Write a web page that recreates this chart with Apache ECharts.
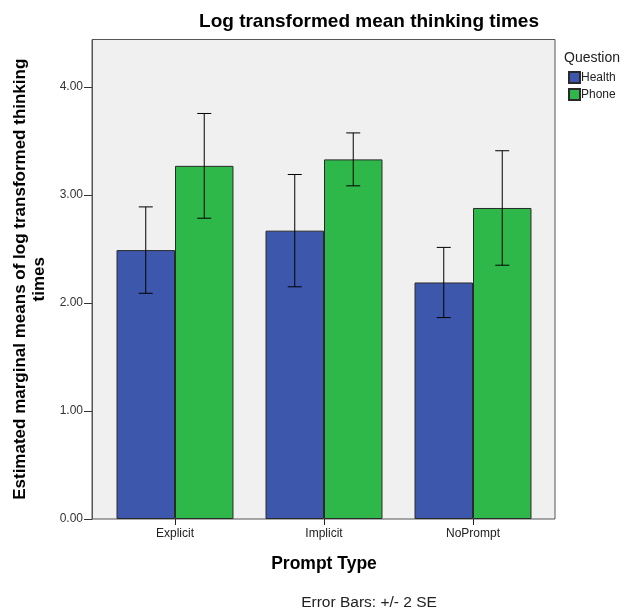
<!DOCTYPE html>
<html>
<head>
<meta charset="utf-8">
<script src="https://cdn.jsdelivr.net/npm/echarts@6/dist/echarts.min.js"></script>
<style>
  html, body { margin: 0; padding: 0; background: #ffffff; }
  #chart { width: 628px; height: 610px; }
</style>
</head>
<body>
<div id="chart"></div>
<script>
// Prompt types on the x axis
const categories = ['Explicit', 'Implicit', 'NoPrompt'];
// Estimated marginal means (log thinking time) per question
const healthMeans = [2.49, 2.67, 2.19];
const phoneMeans = [3.27, 3.33, 2.88];
// Half-width of the error bars (2 SE)
const healthErr = [0.40, 0.52, 0.325];
const phoneErr = [0.485, 0.245, 0.53];
// Y axis ticks
const yTicks = [0, 1, 2, 3, 4];
const yMax = 4.44;

const FONT = 'Liberation Sans, Arial, sans-serif';
const GAP = 0.215; // share of each category left empty

const chart = echarts.init(document.getElementById('chart'), null, { renderer: 'canvas' });

function errorItem(offsetSign) {
  return function (params, api) {
    const cat = api.value(0);
    const lo = api.value(1);
    const hi = api.value(2);
    const band = api.size([1, 0])[0];
    const barW = band * (1 - GAP) / 2;
    const top = api.coord([cat, hi]);
    const bot = api.coord([cat, lo]);
    const x = top[0] + offsetSign * barW / 2;
    const cap = 7;
    const style = { stroke: '#000', lineWidth: 1 };
    return {
      type: 'group',
      children: [
        { type: 'line', shape: { x1: x, y1: top[1], x2: x, y2: bot[1] }, style },
        { type: 'line', shape: { x1: x - cap, y1: top[1], x2: x + cap, y2: top[1] }, style },
        { type: 'line', shape: { x1: x - cap, y1: bot[1], x2: x + cap, y2: bot[1] }, style }
      ]
    };
  };
}

const healthErrData = categories.map((c, i) => [i, healthMeans[i] - healthErr[i], healthMeans[i] + healthErr[i]]);
const phoneErrData = categories.map((c, i) => [i, phoneMeans[i] - phoneErr[i], phoneMeans[i] + phoneErr[i]]);

const option = {
  animation: false,
  backgroundColor: '#ffffff',
  textStyle: { fontFamily: FONT },
  title: [
    {
      text: 'Log transformed mean thinking times',
      left: 364, top: 7, textAlign: 'center',
      textStyle: { fontFamily: FONT, fontSize: 19, fontWeight: 'bold', color: '#000' }
    },
    {
      text: 'Question',
      left: 559, top: 46,
      textStyle: { fontFamily: FONT, fontSize: 14, fontWeight: 'normal', color: '#222' }
    },
    {
      text: 'Error Bars: +/- 2 SE',
      left: 364, top: 590, textAlign: 'center',
      textStyle: { fontFamily: FONT, fontSize: 15.5, fontWeight: 'normal', color: '#222' }
    }
  ],
  legend: {
    orient: 'vertical',
    left: 563, top: 66,
    itemWidth: 11, itemHeight: 11, itemGap: 4,
    icon: 'rect',
    selectedMode: false,
    textStyle: { fontFamily: FONT, fontSize: 12, color: '#222', padding: [0, 0, 0, -4] },
    data: ['Health', 'Phone']
  },
  grid: [
    { left: 92, right: 73, top: 39.5, bottom: 91, show: true,
      backgroundColor: '#f0f0f0', borderColor: '#555', borderWidth: 1 },
    { left: 100.5, right: 80.5, top: 39.5, bottom: 91 }
  ],
  xAxis: [
    { type: 'value', gridIndex: 0, show: false, min: 0, max: 1 },
    {
      type: 'category', gridIndex: 1, data: categories,
      boundaryGap: true,
      name: 'Prompt Type', nameLocation: 'middle', nameGap: 36,
      nameTextStyle: { fontFamily: FONT, fontSize: 17.5, fontWeight: 'bold', color: '#000' },
      axisLine: { show: false },
      axisTick: { show: true, alignWithLabel: true, length: 6, lineStyle: { color: '#222', width: 1 } },
      axisLabel: { fontFamily: FONT, fontSize: 12, color: '#222', margin: 9 }
    }
  ],
  yAxis: [
    {
      type: 'value', gridIndex: 0, min: 0, max: yMax, interval: 1,
      name: 'Estimated marginal means of log transformed thinking\ntimes',
      nameLocation: 'middle', nameGap: 41,
      nameTextStyle: { fontFamily: FONT, fontSize: 17, fontWeight: 'bold', color: '#000', lineHeight: 19, align: 'center' },
      axisLine: { show: true, lineStyle: { color: '#555', width: 1 } },
      axisTick: { show: true, length: 8, customValues: yTicks, lineStyle: { color: '#333' } },
      axisLabel: { fontFamily: FONT, fontSize: 12, color: '#333', margin: 9,
        customValues: yTicks, formatter: v => v.toFixed(2) },
      splitLine: { show: false }
    },
    { type: 'value', gridIndex: 1, min: 0, max: yMax, show: false }
  ],
  series: [
    {
      name: 'Health', type: 'bar', xAxisIndex: 1, yAxisIndex: 1,
      data: healthMeans, barGap: '0%', barCategoryGap: (GAP * 100) + '%',
      itemStyle: { color: '#3d57ac', borderColor: '#2a2a2a', borderWidth: 1 }
    },
    {
      name: 'Phone', type: 'bar', xAxisIndex: 1, yAxisIndex: 1,
      data: phoneMeans, barGap: '0%', barCategoryGap: (GAP * 100) + '%',
      itemStyle: { color: '#2eb84a', borderColor: '#2a2a2a', borderWidth: 1 }
    },
    {
      type: 'custom', xAxisIndex: 1, yAxisIndex: 1, z: 10,
      renderItem: errorItem(-1), data: healthErrData, encode: { x: 0, y: [1, 2] }
    },
    {
      type: 'custom', xAxisIndex: 1, yAxisIndex: 1, z: 10,
      renderItem: errorItem(1), data: phoneErrData, encode: { x: 0, y: [1, 2] }
    }
  ]
};

chart.setOption(option);
</script>
</body>
</html>
